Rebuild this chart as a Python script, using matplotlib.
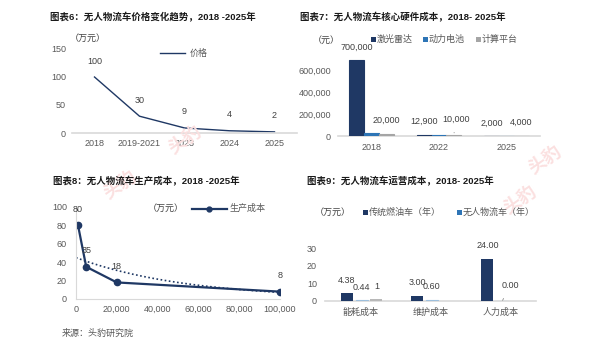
import numpy as np
import matplotlib
matplotlib.use("Agg")
import matplotlib.pyplot as plt
from matplotlib.lines import Line2D
from matplotlib.patches import Rectangle
from matplotlib.ticker import FuncFormatter

plt.rcParams['font.family'] = ['Liberation Sans', 'Noto Sans CJK SC', 'DejaVu Sans']

# ---------------- data ----------------
# Chart 6: price trend
price_years = ["2018", "2019-2021", "2023", "2024", "2025"]
price_vals = [100, 30, 9, 4, 2]

# Chart 7: core hardware cost (元)
hw_years = ["2018", "2022", "2025"]
lidar_cost = [700000, 12900, 2000]
battery_cost = [30000, 12000, 3000]
compute_cost = [20000, 10000, 4000]

# Chart 8: production cost vs volume
prod_volume = [1000, 5000, 20000, 100000]
prod_cost = [80, 35, 18, 8]

# Chart 9: operating cost (万元/年)
op_cats = ["能耗成本", "维护成本", "人力成本"]
fuel_vals = [4.38, 3.00, 24.00]
auto_vals = [0.44, 0.60, 0.00]
other_vals = [1, 0, 0]

# ---------------- layout helpers ----------------
W, H = 602, 351
fig = plt.figure(figsize=(W / 100, H / 100), dpi=100)
fig.patch.set_facecolor("white")

NAVY = "#1f3864"
BLUE = "#2e75b6"
GRAY = "#a5a5a5"
LIGHTBLUE = "#9dbfdc"
AXISC = "#d9d9d9"
TICKC = "#595959"
LABC = "#404040"
FS = 6.5
TFS = 6.8


def ax_at(l, t, r, b):
    return fig.add_axes([l / W, 1 - b / H, (r - l) / W, (b - t) / H])


def ftext(x, y, s, **kw):
    kw.setdefault("fontsize", FS)
    kw.setdefault("color", TICKC)
    kw.setdefault("va", "center")
    kw.setdefault("ha", "left")
    return fig.text(x / W, 1 - y / H, s, **kw)


def fline(x0, x1, y, **kw):
    fig.add_artist(Line2D([x0 / W, x1 / W], [1 - y / H, 1 - y / H], **kw))


def fsquare(x, y, size, color):
    fig.add_artist(Rectangle((x / W, 1 - (y + size / 2) / H), size / W, size / H,
                             facecolor=color, edgecolor="none", transform=fig.transFigure))


def style_axis(ax, left=False):
    for s in ["top", "right"]:
        ax.spines[s].set_visible(False)
    ax.spines["left"].set_visible(left)
    ax.spines["left"].set_color(AXISC)
    ax.spines["bottom"].set_color(AXISC)
    ax.spines["bottom"].set_linewidth(1.2)
    ax.set_facecolor("none")
    ax.tick_params(length=0, labelsize=FS, colors=TICKC)


# faint watermarks
for (x, y, r) in [(185, 140, 35), (520, 200, 35), (120, 185, 35), (545, 160, 35)]:
    ftext(x, y, "头豹", fontsize=13, color="#fbe0e0", ha="center", rotation=r,
          fontweight="bold", zorder=0)

# ---------------- Chart 6 ----------------
ftext(50, 17, "图表6：无人物流车价格变化趋势，2018 -2025年", fontsize=TFS,
      color="#1a1a1a", fontweight="bold")
ax1 = ax_at(72, 49, 297, 133)
x1 = np.arange(len(price_vals))
ax1.plot(x1, price_vals, color=NAVY, lw=1.0)
ax1.set_xlim(-0.5, len(price_vals) - 0.5)
ax1.set_ylim(0, 150)
ax1.set_yticks([0, 50, 100, 150])
ax1.set_xticks(x1)
ax1.set_xticklabels(price_years)
style_axis(ax1)
ax1.tick_params(axis="y", pad=4.3)
ax1.tick_params(axis="x", pad=4.5)
for xi, v in zip(x1, price_vals):
    ax1.annotate(str(v), (xi, v), xytext=(0, 11.5), textcoords="offset points",
                 ha="center", va="center", fontsize=FS, color=LABC, annotation_clip=False)
ftext(70, 38, "（万元）", color="#404040")
fline(160, 185, 53, color=NAVY, lw=1.0)
ftext(190, 53, "价格")

# ---------------- Chart 7 ----------------
ftext(300, 17, "图表7：无人物流车核心硬件成本，2018- 2025年", fontsize=TFS,
      color="#1a1a1a", fontweight="bold")
ax2 = ax_at(338, 49, 540, 136)
x2 = np.arange(len(hw_years))
bw = 0.22
ax2.bar(x2 - bw, lidar_cost, bw, color=NAVY, edgecolor=NAVY, lw=0.8, zorder=3)
ax2.bar(x2, battery_cost, bw, color=BLUE, edgecolor=BLUE, lw=0.8, zorder=3)
ax2.bar(x2 + bw, compute_cost, bw, color=GRAY, edgecolor=GRAY, lw=0.8, zorder=3)
ax2.set_xlim(-0.5, len(hw_years) - 0.5)
ax2.set_ylim(0, 800000)
ax2.set_yticks([0, 200000, 400000, 600000])
ax2.yaxis.set_major_formatter(FuncFormatter(lambda v, p: f"{int(v):,}"))
ax2.set_xticks(x2)
ax2.set_xticklabels(hw_years)
style_axis(ax2)
ax2.tick_params(axis="y", pad=5)
ax2.tick_params(axis="x", pad=5)
for xi, v in zip(x2, lidar_cost):
    ax2.annotate(f"{v:,}", (xi - bw, v), xytext=(0, 9.3), textcoords="offset points",
                 ha="center", va="center", fontsize=FS, color=LABC, annotation_clip=False)
for i, (xi, v) in enumerate(zip(x2, compute_cost)):
    if i == 1:
        ax2.annotate(f"{v:,}", (xi + bw, v), xytext=(1.5, 11), textcoords="offset points",
                     ha="center", va="center", fontsize=FS, color=LABC,
                     arrowprops=dict(arrowstyle="-", color="#8c8c8c", lw=0.6,
                                     shrinkA=4, shrinkB=1.5))
    else:
        ax2.annotate(f"{v:,}", (xi + bw, v), xytext=(0, 9.8), textcoords="offset points",
                     ha="center", va="center", fontsize=FS, color=LABC)
ftext(313, 40, "（元）", color="#404040")
for (lx, lab, col) in [(371, "激光雷达", NAVY), (423, "动力电池", BLUE), (476, "计算平台", GRAY)]:
    fsquare(lx, 39, 5, col)
    ftext(lx + 6, 39, lab)

# ---------------- Chart 8 ----------------
ftext(53, 181, "图表8：无人物流车生产成本，2018 -2025年", fontsize=TFS,
      color="#1a1a1a", fontweight="bold")
ax3 = ax_at(76, 207, 280, 299)
ax3.plot(prod_volume, prod_cost, color=NAVY, lw=1.6, marker="o", markersize=4.5)
# exponential trendline fitted to the data
b, a = np.polyfit(prod_volume, np.log(prod_cost), 1)
xt = np.linspace(0, 100000, 200)
ax3.plot(xt, np.exp(a + b * xt), color=NAVY, lw=1.2, ls=(0, (1, 1.5)))
ax3.set_xlim(0, 100000)
ax3.set_ylim(0, 100)
ax3.set_yticks(np.arange(0, 101, 20))
ax3.set_xticks(np.arange(0, 100001, 20000))
ax3.xaxis.set_major_formatter(FuncFormatter(lambda v, p: f"{int(v):,}"))
style_axis(ax3, left=True)
ax3.spines["bottom"].set_linewidth(0.8)
ax3.tick_params(axis="y", pad=6.5)
ax3.tick_params(axis="x", pad=4.5)
for xv, v in zip(prod_volume, prod_cost):
    ax3.annotate(str(v), (xv, v), xytext=(0, 11.5), textcoords="offset points",
                 ha="center", va="center", fontsize=FS, color=LABC, annotation_clip=False)
ftext(148, 208, "（万元）", color="#404040")
fline(192, 227, 208.5, color=NAVY, lw=1.6)
fig.add_artist(Line2D([209.5 / W], [1 - 208.5 / H], marker="o", markersize=3.5,
                      color=NAVY, transform=fig.transFigure))
ftext(229, 208.5, "生产成本")
ftext(62, 333, "来源：头豹研究院", color="#595959")

# ---------------- Chart 9 ----------------
ftext(307, 181, "图表9：无人物流车运营成本，2018- 2025年", fontsize=TFS,
      color="#1a1a1a", fontweight="bold")
ax4 = ax_at(325, 248, 536, 301)
x4 = np.arange(len(op_cats))
bw4 = 0.17
offs = [-0.19, 0.02, 0.23]
ax4.bar(x4 + offs[0], fuel_vals, bw4, color=NAVY, zorder=3)
ax4.bar(x4 + offs[1], auto_vals, bw4, color=LIGHTBLUE, edgecolor=LIGHTBLUE, lw=0.8, zorder=3)
ax4.bar(x4 + offs[2], other_vals, bw4, color="#b8b8b8", zorder=3)
ax4.set_xlim(-0.5, len(op_cats) - 0.5)
ax4.set_ylim(0, 30)
ax4.set_yticks([0, 10, 20, 30])
ax4.set_xticks(x4)
ax4.set_xticklabels(op_cats)
style_axis(ax4)
ax4.tick_params(axis="y", pad=5.8)
ax4.tick_params(axis="x", pad=4.5)
for xi, v in zip(x4, fuel_vals):
    ax4.annotate(f"{v:.2f}", (xi + offs[0], v), xytext=(0, 9.5), textcoords="offset points",
                 ha="center", va="center", fontsize=FS, color=LABC, annotation_clip=False)
for i, (xi, v) in enumerate(zip(x4, auto_vals)):
    if v == 0:
        ax4.annotate(f"{v:.2f}", (xi + offs[1], v), xytext=(6, 11.5), textcoords="offset points",
                     ha="center", va="center", fontsize=FS, color=LABC,
                     arrowprops=dict(arrowstyle="-", color="#8c8c8c", lw=0.6,
                                     shrinkA=5, shrinkB=0.5))
    else:
        ax4.annotate(f"{v:.2f}", (xi + offs[1], v), xytext=(0, 9.5), textcoords="offset points",
                     ha="center", va="center", fontsize=FS, color=LABC)
for xi, v in zip(x4, other_vals):
    if v > 0:
        ax4.annotate(f"{v:g}", (xi + offs[2], v), xytext=(0, 9.5), textcoords="offset points",
                     ha="center", va="center", fontsize=FS, color=LABC)
ftext(315, 212.5, "（万元）", color="#404040")
for (lx, lab, col) in [(363, "传统燃油车（年）", NAVY), (457, "无人物流车（年）", BLUE)]:
    fsquare(lx, 212.5, 4.5, col)
    ftext(lx + 5.5, 212.5, lab)

fig.savefig("out.png", dpi=100, facecolor="white")
